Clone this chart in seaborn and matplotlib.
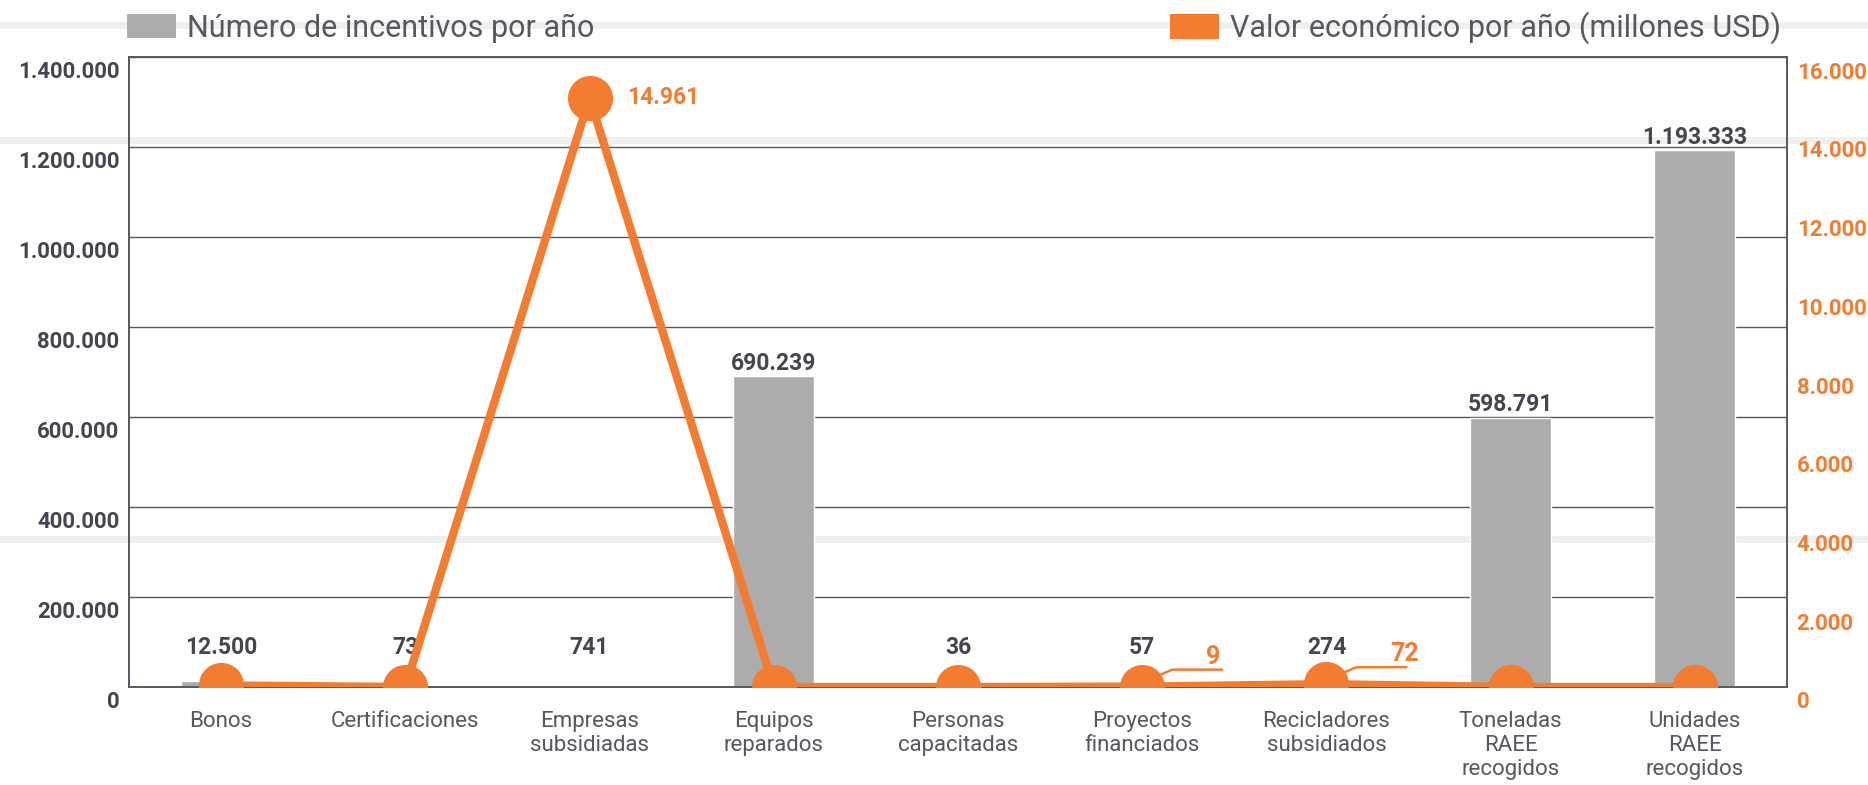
import numpy as np
import pandas as pd
import seaborn as sns
import matplotlib.pyplot as plt
from matplotlib.lines import Line2D
from matplotlib.patches import Patch
from matplotlib.transforms import ScaledTranslation

sns.set_style("white")
plt.rcParams['font.family'] = ['Roboto', 'DejaVu Sans']

categorias = ["Bonos", "Certificaciones", "Empresas\nsubsidiadas", "Equipos\nreparados",
              "Personas\ncapacitadas", "Proyectos\nfinanciados", "Recicladores\nsubsidiados",
              "Toneladas\nRAEE\nrecogidos", "Unidades\nRAEE\nrecogidos"]
incentivos = [12500, 73, 741, 690239, 36, 57, 274, 598791, 1193333]
valor_usd = [40, 0, 14961, 0, 0, 9, 72, 0, 0]
# which line points get a label
etiquetas_valor = {2: "14.961", 5: "9", 6: "72"}

left_ticks = list(range(0, 1400001, 200000))
right_ticks = list(range(0, 16001, 2000))

GRIS = "#ABACAB"
NARANJA = "#F47C30"
OSCURO = "#48434F"
TEXTO = "#5A5560"


def miles(v):
    return f"{v:,}".replace(",", ".")


df = pd.DataFrame({"categoria": categorias, "incentivos": incentivos, "valor": valor_usd})

fig = plt.figure(figsize=(18.68, 7.85), dpi=100)
ax = fig.add_axes([129 / 1868, 1 - 687 / 785, (1787 - 129) / 1868, (687 - 57) / 785])
ax.patch.set_visible(False)

# light background bands from the slide
for yy in [25, 140, 539]:
    fig.add_artist(Line2D([0, 1], [1 - yy / 785] * 2, transform=fig.transFigure,
                          color="#EEF0EF", lw=5, zorder=-5))

sns.barplot(data=df, x="categoria", y="incentivos", color=GRIS, width=0.44,
            saturation=1, ax=ax, zorder=2)
ax.set_ylim(0, 1400000)
ax.set_yticks(left_ticks)
ax.set_yticklabels([miles(t) for t in left_ticks], fontsize=16, fontweight="bold", color=OSCURO)
ax.yaxis.grid(True, color=TEXTO, lw=1)
ax.set_axisbelow(True)
ax.set_xlabel("")
ax.set_ylabel("")
ax.tick_params(axis="y", length=0, pad=7)
ax.tick_params(axis="x", length=0, pad=17, labelsize=16, labelcolor=TEXTO)
for s in ax.spines.values():
    s.set_color(TEXTO)
    s.set_linewidth(1.2)

# labels of tiny bars are lifted to a readable height
for i, v in enumerate(incentivos):
    ax.annotate(miles(v), xy=(i, max(v, 60000)), xytext=(0, 1), textcoords="offset points",
                ha="center", va="bottom", fontsize=16.5, fontweight="bold", color=OSCURO)

ax2 = ax.twinx()
sns.pointplot(data=df, x="categoria", y="valor", color=NARANJA, ax=ax2,
              markersize=28, linewidth=6, zorder=5)
ax2.set_ylim(0, 16000)
ax2.set_yticks(right_ticks)
ax2.set_yticklabels([miles(t) for t in right_ticks], fontsize=16, fontweight="bold", color=NARANJA)
ax2.tick_params(axis="y", length=0, pad=7)
ax2.set_ylabel("")
ax2.set_xlabel("")
for s in ax2.spines.values():
    s.set_color(TEXTO)
    s.set_linewidth(1.2)
ax.set_xlim(-0.5, 8.5)

# tick labels sit a little below their gridline
shift = ScaledTranslation(0, -13 / 100, fig.dpi_scale_trans)
for lbl in ax.get_yticklabels() + ax2.get_yticklabels():
    lbl.set_transform(lbl.get_transform() + shift)

# value labels for the line
ux = 184.2
uy = 16000 / 630
for i, txt in etiquetas_valor.items():
    v = valor_usd[i]
    if v > 1000:
        ax2.annotate(txt, xy=(i, v), xytext=(38 * 0.72, 0), textcoords="offset points",
                     ha="left", va="center", fontsize=16.5, fontweight="bold", color=NARANJA)
    else:
        ax2.plot([i + 16 / ux, i + 30 / ux, i + 80 / ux],
                 [v + 11 * uy, v + 17 * uy, v + 17 * uy], color=NARANJA, lw=1.8, zorder=6)
        ax2.annotate(txt, xy=(i, v), xytext=(64 * 0.72, 30 * 0.72), textcoords="offset points",
                     ha="left", va="center", fontsize=18, fontweight="bold", color=NARANJA)

fig.legend(handles=[Patch(facecolor=GRIS, edgecolor="none")],
           labels=["Número de incentivos por año"], loc="center left",
           bbox_to_anchor=(127 / 1868, 1 - 28 / 785), frameon=False, fontsize=22,
           handlelength=1.6, handleheight=0.85, handletextpad=0.35,
           borderpad=0, borderaxespad=0, labelcolor=TEXTO)
fig.legend(handles=[Patch(facecolor=NARANJA, edgecolor="none")],
           labels=["Valor económico por año (millones USD)"], loc="center right",
           bbox_to_anchor=(1781 / 1868, 1 - 28 / 785), frameon=False, fontsize=22,
           handlelength=1.6, handleheight=0.85, handletextpad=0.35,
           borderpad=0, borderaxespad=0, labelcolor=TEXTO)

fig.savefig("out.png", dpi=100)
